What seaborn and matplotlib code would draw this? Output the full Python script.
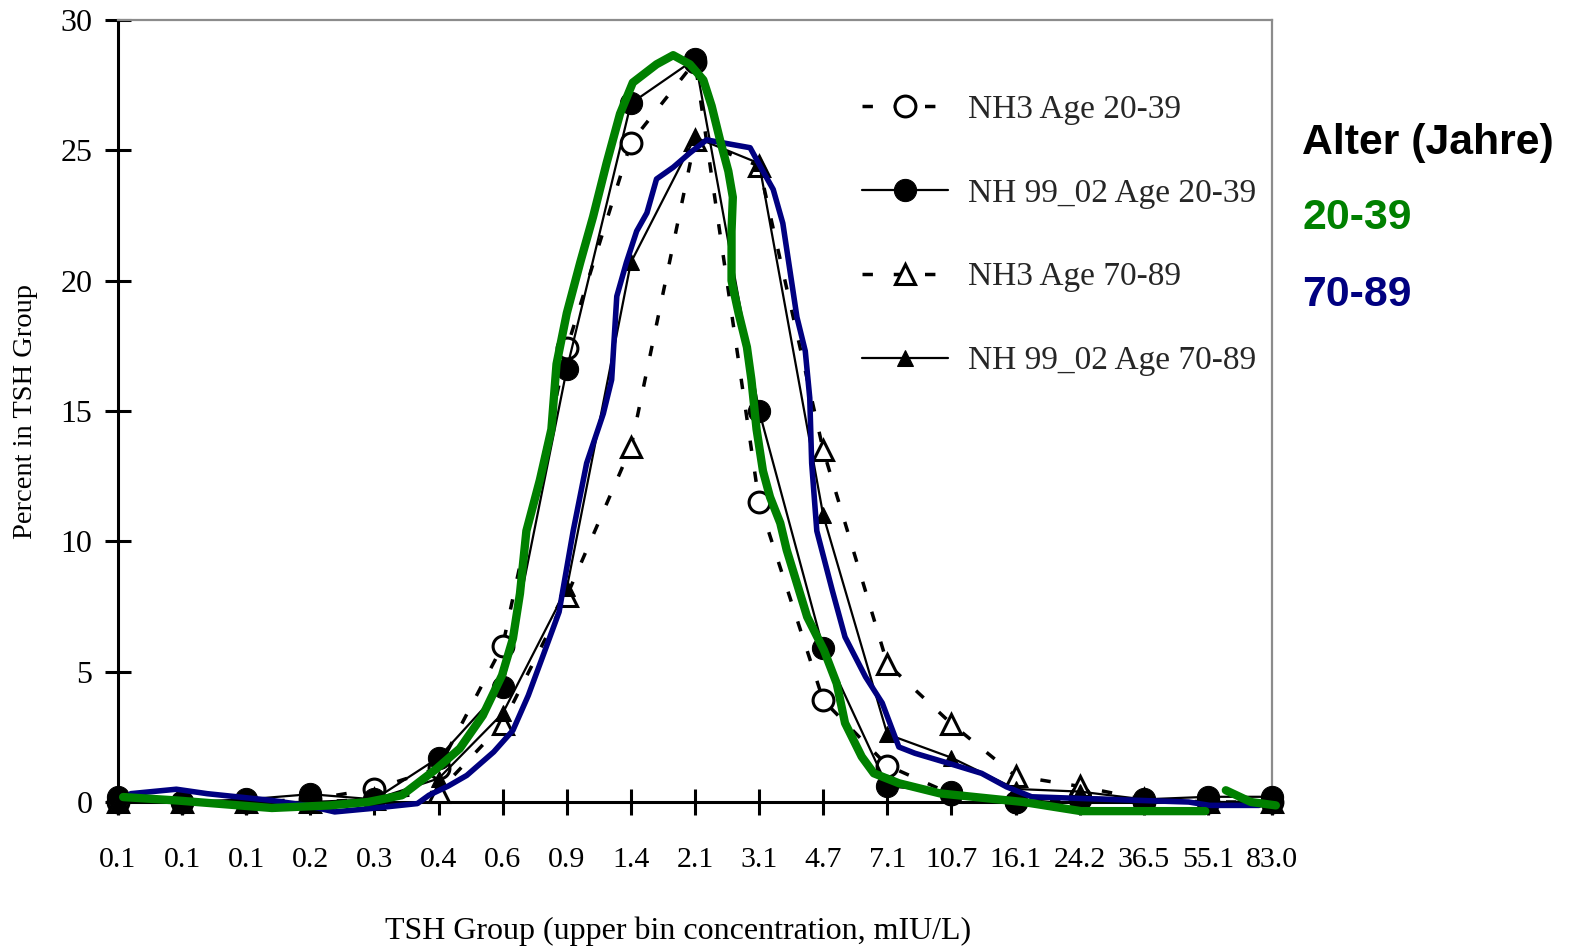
import matplotlib
matplotlib.use("Agg")
import matplotlib.pyplot as plt
import seaborn as sns

# ---------------- data ----------------
tsh_groups = ["0.1", "0.1", "0.1", "0.2", "0.3", "0.4", "0.6", "0.9", "1.4", "2.1",
              "3.1", "4.7", "7.1", "10.7", "16.1", "24.2", "36.5", "55.1", "83.0"]

nh3_20_39 = [0.0, 0.0, 0.0, 0.1, 0.5, 1.3, 6.0, 17.4, 25.3, 28.4,
             11.5, 3.9, 1.4, 0.3, 0.0, 0.1, 0.0, 0.0, 0.0]
nh99_20_39 = [0.2, 0.0, 0.1, 0.3, 0.1, 1.7, 4.4, 16.6, 26.8, 28.5,
              15.0, 5.9, 0.6, 0.4, 0.0, 0.2, 0.1, 0.2, 0.2]
nh3_70_89 = [0.0, 0.0, 0.0, 0.0, 0.1, 0.4, 3.0, 7.9, 13.6, 25.4,
             24.4, 13.5, 5.3, 3.0, 1.0, 0.6, 0.1, 0.0, 0.0]
nh99_70_89 = [0.0, 0.0, 0.0, 0.0, 0.1, 0.9, 3.4, 8.2, 20.7, 25.5,
              24.5, 11.0, 2.6, 1.7, 0.5, 0.4, 0.1, 0.0, 0.0]

# hand-drawn overlay curves (x in category-index units, y in percent)
green_x = [0.08, 0.91, 2.4, 3.3, 3.9, 4.43, 4.97, 5.33, 5.69, 5.99, 6.16, 6.27, 6.37,
           6.58, 6.76, 6.84, 7.0, 7.21, 7.41, 7.62, 7.83, 8.03, 8.4, 8.66, 8.92, 9.13,
           9.26, 9.39, 9.52, 9.59, 9.57, 9.57, 9.68, 9.81, 9.88, 9.96, 10.06, 10.17,
           10.33, 10.43, 10.75, 11.01, 11.21, 11.34, 11.6, 11.79, 12.18, 12.82, 14.12,
           15.02, 16.06, 16.96]
green_y = [0.19, 0.06, -0.23, -0.13, 0.0, 0.26, 1.28, 2.05, 3.32, 4.86, 6.27, 8.0, 10.4,
           12.35, 14.3, 16.8, 18.75, 20.7, 22.45, 24.5, 26.4, 27.6, 28.3, 28.65, 28.3, 27.7,
           26.7, 25.4, 24.2, 23.2, 21.9, 20.0, 18.75, 17.45, 16.2, 14.3, 12.7, 11.7,
           10.7, 9.67, 7.1, 5.83, 4.55, 3.03, 1.74, 1.1, 0.72, 0.33, 0.0,
           -0.35, -0.35, -0.35]
green_tail_x = [17.28, 17.67, 18.06]
green_tail_y = [0.45, 0.0, -0.13]

blue_x = [0.2, 0.91, 1.39, 2.4, 2.94, 3.38, 3.9, 4.67, 4.85, 5.15, 5.44, 5.86, 6.16,
          6.4, 6.65, 6.88, 7.1, 7.31, 7.57, 7.7, 7.78, 7.93, 8.09, 8.25, 8.4, 8.66,
          8.92, 9.18, 9.86, 10.06, 10.22, 10.37, 10.48, 10.59, 10.72, 10.79, 10.82,
          10.9, 11.14, 11.34, 11.66, 11.92, 12.18, 12.43, 12.95, 13.47, 13.86,
          14.25, 15.08, 16.7, 17.03, 17.8]
blue_y = [0.32, 0.49, 0.32, 0.06, -0.13, -0.38, -0.26, -0.06, 0.26, 0.61, 1.02, 1.92, 2.75,
          4.09, 5.75, 7.29, 10.4, 13.0, 14.9, 16.2, 19.4, 20.7, 21.9, 22.6, 23.9, 24.35,
          24.9, 25.4, 25.1, 24.2, 23.5, 22.2, 20.4, 18.6, 17.3, 15.5, 13.0,
          10.4, 8.13, 6.33, 4.8, 3.8, 2.11, 1.87, 1.49, 1.1, 0.58,
          0.2, 0.13, 0.0, -0.13, -0.13]

y_ticks = [0, 5, 10, 15, 20, 25, 30]

# ---------------- style ----------------
sns.set_style("white")
plt.rcParams['font.family'] = ['Liberation Serif', 'DejaVu Serif']

W, H = 1571, 946
fig = plt.figure(figsize=(W / 100, H / 100), dpi=100)
ax = fig.add_axes([118 / W, 1 - 802 / H, (1272 - 118) / W, (802 - 20) / H])

pos = list(range(len(tsh_groups)))
dash = (0, (3, 6))
series = [
    ("NH3 Age 20-39", nh3_20_39,
     dict(linestyle=dash, linewidth=2.5, marker='o', markersize=15,
          markerfacecolor='white', markeredgecolor='black', markeredgewidth=2.2)),
    ("NH 99_02 Age 20-39", nh99_20_39,
     dict(linestyle='-', linewidth=1.6, marker='o', markersize=16,
          markerfacecolor='black', markeredgecolor='black')),
    ("NH3 Age 70-89", nh3_70_89,
     dict(linestyle=dash, linewidth=2.5, marker='^', markersize=15,
          markerfacecolor='white', markeredgecolor='black', markeredgewidth=2.2)),
    ("NH 99_02 Age 70-89", nh99_70_89,
     dict(linestyle='-', linewidth=1.6, marker='^', markersize=11,
          markerfacecolor='black', markeredgecolor='black')),
]
for label, vals, kw in series:
    sns.lineplot(x=pos, y=vals, ax=ax, color='black', label=label, estimator=None,
                 sort=False, clip_on=False, zorder=3, **kw)

sns.lineplot(x=blue_x, y=blue_y, ax=ax, color='#000080', linewidth=4, estimator=None,
             sort=False, clip_on=False, zorder=5, legend=False,
             solid_capstyle='round', solid_joinstyle='round')
sns.lineplot(x=green_x, y=green_y, ax=ax, color='#008000', linewidth=6, estimator=None,
             sort=False, clip_on=False, zorder=6, legend=False,
             solid_capstyle='round', solid_joinstyle='round')
sns.lineplot(x=green_tail_x, y=green_tail_y, ax=ax, color='#008000', linewidth=6,
             estimator=None, sort=False, clip_on=False, zorder=6, legend=False,
             solid_capstyle='round', solid_joinstyle='round')

ax.set_xlim(0, len(tsh_groups) - 1)
ax.set_ylim(0, 30)
ax.set_xticks(pos)
ax.set_xticklabels(tsh_groups)
ax.set_yticks(y_ticks)
ax.set_yticklabels([str(t) for t in y_ticks])

ax.tick_params(axis='both', direction='inout', length=19, width=2.2, color='black',
               labelcolor='black')
ax.tick_params(axis='y', labelsize=23, pad=9, left=True)
ax.tick_params(axis='x', labelsize=21.5, pad=23, bottom=True)

for side in ('left', 'bottom'):
    ax.spines[side].set_color('black')
    ax.spines[side].set_linewidth(2.2)
for side in ('top', 'right'):
    ax.spines[side].set_color('#8c8c8c')
    ax.spines[side].set_linewidth(1.6)

ax.set_xlabel("TSH Group (upper bin concentration, mIU/L)", fontsize=23, color='black')
ax.set_ylabel("Percent in TSH Group", fontsize=20.5, color='black')
ax.xaxis.set_label_coords(0.485, -0.147)
ax.yaxis.set_label_coords(-0.069, 0.5)

handles, labels = ax.get_legend_handles_labels()
ax.legend(handles[:4], labels[:4], loc='upper left', bbox_to_anchor=(0.645, 0.905),
          frameon=False, fontsize=24, handlelength=2.58, handletextpad=0.6,
          labelspacing=1.6, borderpad=0, borderaxespad=0)

fig.text(1302 / W, 1 - 143 / H, "Alter (Jahre)", family=['Liberation Sans'],
         weight='bold', fontsize=30.8, color='black', ha='left', va='center')
fig.text(1302 / W, 1 - 218 / H, "20-39", family=['Liberation Sans'],
         weight='bold', fontsize=30.8, color='#008000', ha='left', va='center')
fig.text(1302 / W, 1 - 295 / H, "70-89", family=['Liberation Sans'],
         weight='bold', fontsize=30.8, color='#000080', ha='left', va='center')

fig.savefig("out.png", dpi=100, facecolor='white')
